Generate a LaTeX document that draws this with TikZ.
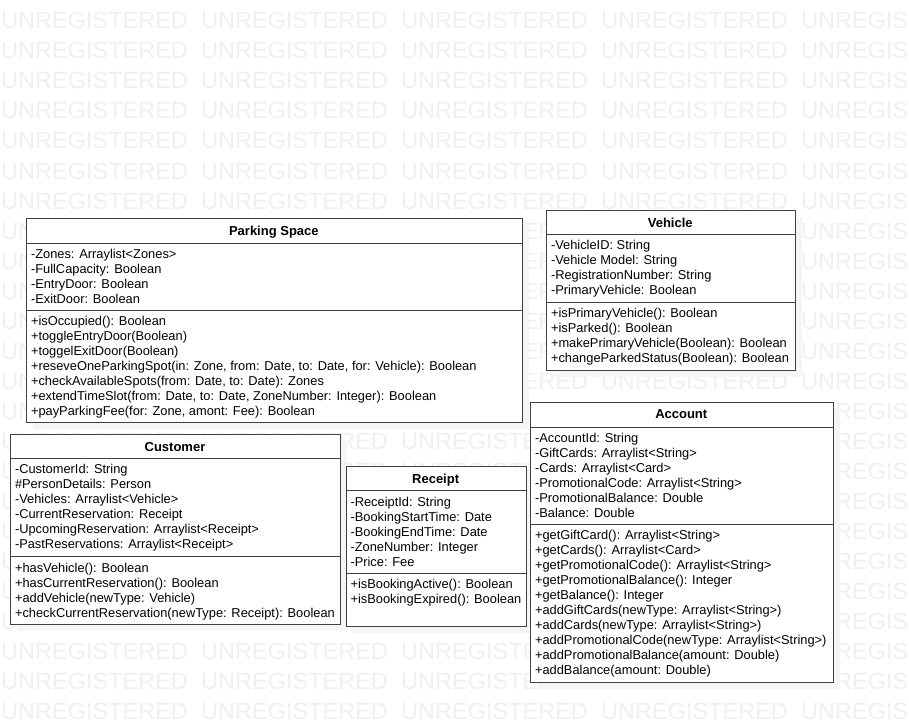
\documentclass[tikz,border=0pt]{standalone}
\usepackage{fontspec}
\setmainfont{Liberation Sans}
\tikzset{
  wm/.style={anchor=base west, inner sep=0pt, text=black!6, font=\fontsize{23.5}{24}\selectfont},
  cbox/.style={draw=black!75, line width=1.1pt, fill=white, inner sep=0pt},
  shadowbox/.style={fill=black!4, draw=none},
  ctitle/.style={anchor=base, inner sep=0pt, font=\fontsize{13}{15}\selectfont\bfseries},
  cline/.style={anchor=base west, inner sep=0pt, font=\fontsize{12.85}{15}\selectfont},
  sepline/.style={draw=black!75, line width=1.1pt},
}
% #1 id, #2 x1, #3 y1, #4 x2, #5 y2, #6 title divider, #7 attribute divider, #8 title
\newcommand\classframe[8]{%
  \fill[shadowbox] ({#2+7},{#3+7}) rectangle ({#4+7},{#5+7});
  \node[cbox, anchor=north west, minimum width={#4-#2}, minimum height={#5-#3}] (#1) at (#2,#3) {};
  \draw[sepline] (#2,#6) -- (#4,#6);
  \draw[sepline] (#2,#7) -- (#4,#7);
  \node[ctitle] (#1-t) at ({(#2+#4)/2},{#3+17}) {#8};
}
% #1 id, #2 prefix, #3 x1, #4 divider y, #5 list
\newcommand\classlines[5]{%
  \foreach \t [count=\i] in {#5}
    \node[cline] (#1-#2\i) at ({#3+4.8},{#4+15.3+15*(\i-1)}) {\t};
}
\begin{document}
\begin{tikzpicture}[x=1pt, y=-1pt]
\useasboundingbox (0,0) rectangle (909,722);
\fill[white] (0,0) rectangle (909,722);
\begin{scope}
  \clip (0,0) rectangle (909,722);
  \foreach \r in {0,...,23}
    \foreach \c in {0,...,4}
      \node[wm] (wm-\r-\c) at ({1+200*\c},{29+30*\r}) {UNREGISTERED};
\end{scope}

% Parking Space
\classframe{ps}{26}{218.3}{521.7}{422.3}{243.3}{310.5}{Parking Space}
\classlines{ps}{a}{26}{243.3}{{-Zones: Arraylist<Zones>},{-FullCapacity: Boolean},{-EntryDoor: Boolean},{-ExitDoor: Boolean}}
\classlines{ps}{m}{26}{310.5}{{+isOccupied(): Boolean},{+toggleEntryDoor(Boolean)},{+toggelExitDoor(Boolean)},{+reseveOneParkingSpot(in: Zone, from: Date, to: Date, for: Vehicle): Boolean},{+checkAvailableSpots(from: Date, to: Date): Zones},{+extendTimeSlot(from: Date, to: Date, ZoneNumber: Integer): Boolean},{+payParkingFee(for: Zone, amont: Fee): Boolean}}

% Vehicle
\classframe{veh}{546}{210}{794.5}{369.5}{234.5}{302.5}{Vehicle}
\classlines{veh}{a}{546}{234.5}{{-VehicleID: String},{-Vehicle Model: String},{-RegistrationNumber: String},{-PrimaryVehicle: Boolean}}
\classlines{veh}{m}{546}{302.5}{{+isPrimaryVehicle(): Boolean},{+isParked(): Boolean},{+makePrimaryVehicle(Boolean): Boolean},{+changeParkedStatus(Boolean): Boolean}}

% Customer
\classframe{cus}{10}{434.3}{340}{624}{458.5}{556.7}{Customer}
\classlines{cus}{a}{10}{458.5}{{-CustomerId: String},{\#PersonDetails: Person},{-Vehicles: Arraylist<Vehicle>},{-CurrentReservation: Receipt},{-UpcomingReservation: Arraylist<Receipt>},{-PastReservations: Arraylist<Receipt>}}
\classlines{cus}{m}{10}{556.7}{{+hasVehicle(): Boolean},{+hasCurrentReservation(): Boolean},{+addVehicle(newType: Vehicle)},{+checkCurrentReservation(newType: Receipt): Boolean}}

% Receipt
\classframe{rec}{345.5}{466}{525.8}{626}{490.8}{573.5}{Receipt}
\classlines{rec}{a}{345.5}{490.8}{{-ReceiptId: String},{-BookingStartTime: Date},{-BookingEndTime: Date},{-ZoneNumber: Integer},{-Price: Fee}}
\classlines{rec}{m}{345.5}{573.5}{{+isBookingActive(): Boolean},{+isBookingExpired(): Boolean}}

% Account
\classframe{acc}{530}{401.8}{832.5}{681.8}{427.3}{524.5}{Account}
\classlines{acc}{a}{530}{427.3}{{-AccountId: String},{-GiftCards: Arraylist<String>},{-Cards: Arraylist<Card>},{-PromotionalCode: Arraylist<String>},{-PromotionalBalance: Double},{-Balance: Double}}
\classlines{acc}{m}{530}{524.5}{{+getGiftCard(): Arraylist<String>},{+getCards(): Arraylist<Card>},{+getPromotionalCode(): Arraylist<String>},{+getPromotionalBalance(): Integer},{+getBalance(): Integer},{+addGiftCards(newType: Arraylist<String>)},{+addCards(newType: Arraylist<String>)},{+addPromotionalCode(newType: Arraylist<String>)},{+addPromotionalBalance(amount: Double)},{+addBalance(amount: Double)}}
\end{tikzpicture}
\end{document}
